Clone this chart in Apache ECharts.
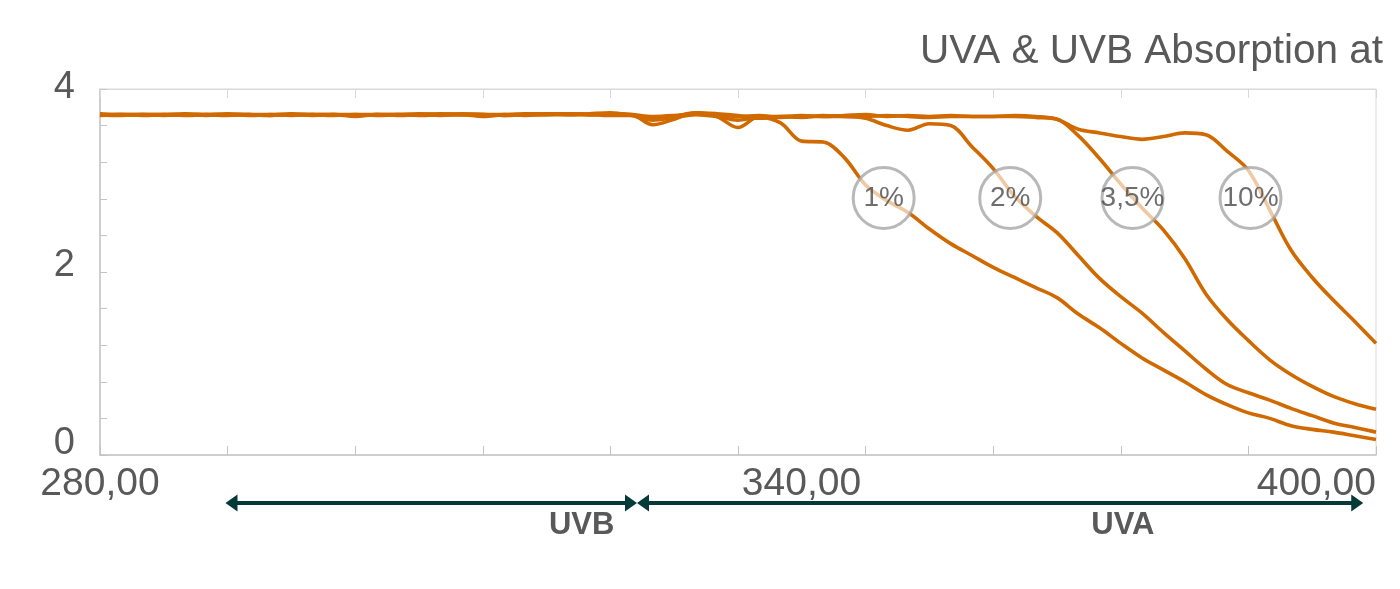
<!DOCTYPE html>
<html>
<head>
<meta charset="utf-8">
<script src="https://cdn.jsdelivr.net/npm/echarts@6/dist/echarts.min.js"></script>
<style>
html,body{margin:0;padding:0;background:#fff;}
#chart{width:1400px;height:589px;}
</style>
</head>
<body>
<div id="chart"></div>
<script>
// ---- data ----
const titleText = 'UVA & UVB Absorption at';
const wavelengths = [280,282,284,286,288,290,292,294,296,298,300,302,304,306,308,310,312,314,316,318,320,322,324,326,328,330,332,334,336,338,340,342,344,346,348,350,352,354,356,358,360,362,364,366,368,370,372,374,376,378,380,382,384,386,388,390,392,394,396,398,400];
const abs1 = [3.72,3.72,3.71,3.72,3.73,3.72,3.71,3.72,3.72,3.71,
              3.72,3.72,3.70,3.72,3.72,3.72,3.71,3.72,3.70,3.72,
              3.73,3.73,3.72,3.73,3.74,3.71,3.66,3.69,3.72,3.70,
              3.66,3.69,3.63,3.43,3.42,3.25,2.95,2.78,2.65,2.47,
              2.31,2.18,2.05,1.94,1.83,1.72,1.54,1.39,1.22,1.06,
              0.93,0.80,0.66,0.55,0.46,0.40,0.32,0.28,0.25,0.21,
              0.17];
const abs2 = [3.71,3.72,3.72,3.71,3.72,3.72,3.72,3.71,3.72,3.73,
              3.72,3.71,3.72,3.72,3.71,3.72,3.73,3.72,3.72,3.71,
              3.72,3.73,3.73,3.72,3.73,3.72,3.61,3.67,3.74,3.70,
              3.58,3.70,3.70,3.71,3.70,3.70,3.68,3.60,3.55,3.62,
              3.60,3.37,3.13,2.83,2.61,2.43,2.18,1.93,1.73,1.55,
              1.34,1.14,0.94,0.77,0.68,0.60,0.51,0.43,0.35,0.30,
              0.25];
const abs35 = [3.73,3.72,3.72,3.72,3.71,3.72,3.73,3.72,3.71,3.72,
               3.71,3.72,3.72,3.71,3.72,3.73,3.72,3.72,3.72,3.71,
               3.72,3.72,3.73,3.72,3.71,3.71,3.68,3.70,3.74,3.73,
               3.71,3.68,3.70,3.69,3.71,3.70,3.70,3.71,3.70,3.69,
               3.70,3.70,3.70,3.70,3.69,3.67,3.49,3.24,2.96,2.70,
               2.46,2.15,1.76,1.48,1.25,1.04,0.88,0.75,0.64,0.56,
               0.50];
const abs10 = [3.72,3.71,3.72,3.72,3.72,3.71,3.72,3.72,3.71,3.72,
               3.72,3.72,3.71,3.72,3.72,3.71,3.72,3.73,3.72,3.72,
               3.71,3.72,3.72,3.72,3.73,3.72,3.70,3.71,3.73,3.72,
               3.70,3.71,3.69,3.70,3.70,3.71,3.72,3.70,3.71,3.70,
               3.71,3.70,3.70,3.71,3.70,3.67,3.56,3.52,3.48,3.45,
               3.48,3.52,3.50,3.32,3.11,2.68,2.24,1.94,1.69,1.46,
               1.22];
const circleLabels = ['1%','2%','3,5%','10%'];
const circleX = [353.7, 365.6, 377.1, 388.2];
const circleY = [2.81, 2.81, 2.81, 2.81];
const xTickLabels = {280:'280,00', 340:'340,00', 400:'400,00'};
const yTickLabels = {0:'0', 2:'2', 4:'4'};
const bandNames = ['UVB','UVA'];
const bandRanges = [[291.8, 330.5],[330.5, 398.8]];
const bandLabelX = [325.3, 376.2];

// ---- chart ----
const FONT = "'Liberation Sans', Arial, sans-serif";
const TXT = '#595959';
const ORANGE = '#d06a00';
const AX = '#c4c4c4';
const chart = echarts.init(document.getElementById('chart'), null, {renderer:'canvas'});

function zip(vals){ return wavelengths.map((w,i)=>[w, vals[i]]); }
function lineSeries(name, vals){
  return {
    name, type:'line', data: zip(vals), smooth:0.35, showSymbol:false,
    lineStyle:{color:ORANGE, width:3.6}, itemStyle:{color:ORANGE}, z:2, silent:true
  };
}

const yRich = {
  y0:{fontSize:38, fontFamily:FONT, color:TXT, padding:[0,0,22,0]},
  y2:{fontSize:38, fontFamily:FONT, color:TXT, padding:[0,0,12,0]},
  y4:{fontSize:38, fontFamily:FONT, color:TXT, padding:[0,0,2,0]}
};

const option = {
  backgroundColor:'#fff',
  animation:false,
  textStyle:{fontFamily:FONT},
  title:{
    text:titleText, right:12, top:26,
    textStyle:{fontFamily:FONT, fontSize:40.5, fontWeight:'normal', color:TXT}
  },
  grid:{left:100, right:24, top:89, bottom:134, show:true, borderColor:'#d9d9d9', borderWidth:1, backgroundColor:'transparent'},
  xAxis:[{
    type:'value', min:280, max:400, interval:12, position:'bottom',
    axisLine:{show:true, lineStyle:{color:AX, width:1.5}},
    axisTick:{show:true, inside:true, length:9, lineStyle:{color:AX}},
    splitLine:{show:false},
    axisLabel:{
      show:true, margin:10, color:TXT, fontSize:39, fontFamily:FONT,
      alignMinLabel:'center', alignMaxLabel:'right',
      formatter:function(v){
        const k = Math.round(v);
        if (k === 340) return '{m|' + xTickLabels[k] + '}';
        return xTickLabels[k] || '';
      },
      rich:{ m:{fontSize:39, fontFamily:FONT, color:TXT, padding:[0,0,0,127]} }
    }
  },{
    type:'value', min:280, max:400, interval:12, position:'top',
    axisLine:{show:true, lineStyle:{color:'#d9d9d9', width:1}},
    axisTick:{show:true, inside:true, length:9, lineStyle:{color:'#d9d9d9'}},
    axisLabel:{show:false}, splitLine:{show:false}
  }],
  yAxis:{
    type:'value', min:0, max:4, interval:0.4,
    axisLine:{show:true, lineStyle:{color:AX, width:1.5}},
    axisTick:{show:true, inside:true, length:7, lineStyle:{color:AX}},
    splitLine:{show:false},
    axisLabel:{
      margin:25, color:TXT, fontSize:38, fontFamily:FONT,
      formatter:function(v){
        const r = Math.round(v*10)/10;
        return (r in yTickLabels) ? '{y' + r + '|' + yTickLabels[r] + '}' : '';
      },
      rich:yRich
    }
  },
  series:[
    lineSeries('1%', abs1),
    lineSeries('2%', abs2),
    lineSeries('3,5%', abs35),
    lineSeries('10%', abs10),
    {
      type:'scatter', name:'labels', z:5, silent:true,
      data: circleLabels.map((t,i)=>({value:[circleX[i], circleY[i]], name:t})),
      symbol:'circle', symbolSize:61,
      itemStyle:{color:'rgba(255,255,255,0.8)', borderColor:'#a6a6a6', borderWidth:3},
      label:{show:true, position:'inside', formatter:'{b}', color:'#4a4a4a', fontSize:28, fontFamily:FONT}
    }
  ]
};
chart.setOption(option);

// arrows and band labels under the axis
function drawBands(){
  const y0 = chart.convertToPixel({yAxisIndex:0}, 0);
  const ay = y0 + 48;
  const ly = y0 + 70;
  const headL = 12, headW = 8.5;
  const COL = '#063a39';
  const els = [];
  bandRanges.forEach((r, i)=>{
    const xa = chart.convertToPixel({xAxisIndex:0}, r[0]);
    const xb = chart.convertToPixel({xAxisIndex:0}, r[1]);
    els.push({type:'line', shape:{x1:xa+headL-1, y1:ay, x2:xb-headL+1, y2:ay}, style:{stroke:COL, lineWidth:4}, silent:true});
    els.push({type:'polygon', shape:{points:[[xa,ay],[xa+headL,ay-headW],[xa+headL,ay+headW]]}, style:{fill:COL}, silent:true});
    els.push({type:'polygon', shape:{points:[[xb,ay],[xb-headL,ay-headW],[xb-headL,ay+headW]]}, style:{fill:COL}, silent:true});
    const lx = chart.convertToPixel({xAxisIndex:0}, bandLabelX[i]);
    els.push({type:'text', x:lx, y:ly, style:{text:bandNames[i], fill:TXT, font:"bold 31px 'Liberation Sans', Arial, sans-serif", align:'center', verticalAlign:'middle'}, silent:true});
  });
  chart.setOption({graphic:{elements:els}});
}
drawBands();
</script>
</body>
</html>
